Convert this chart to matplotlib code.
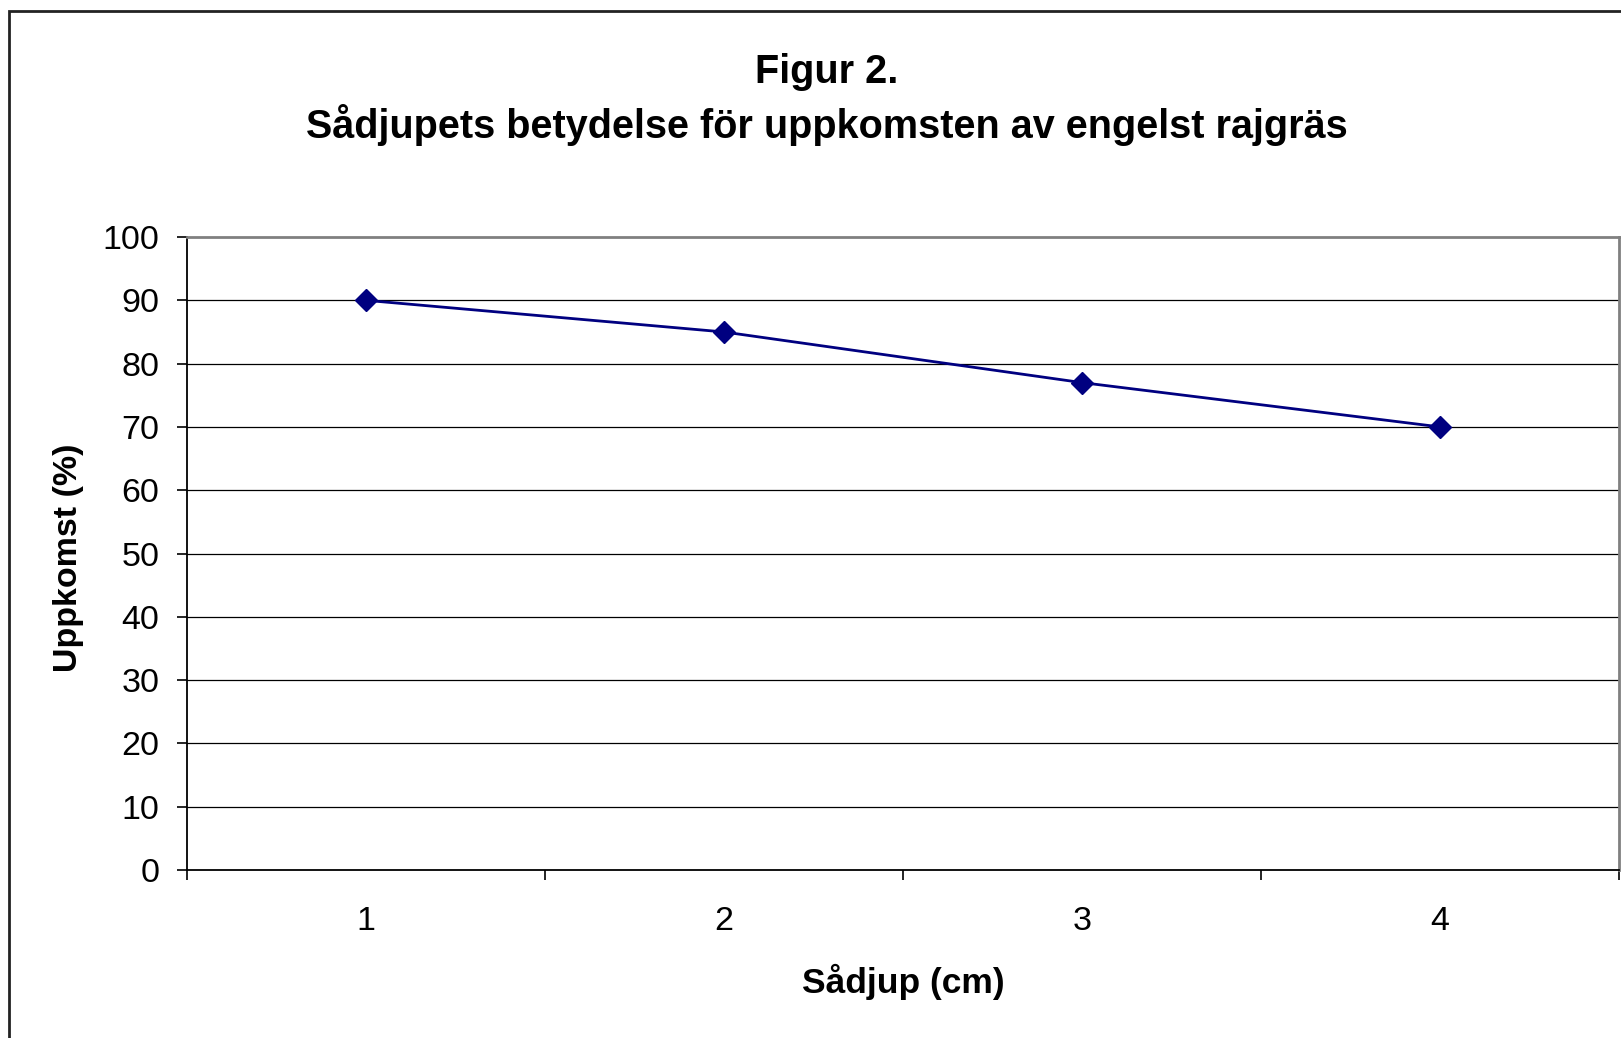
import matplotlib.pyplot as plt
from matplotlib.patches import Rectangle

# === DATA ===
depth = [1, 2, 3, 4]
emergence = [90, 85, 77, 70]
yticks = [0, 10, 20, 30, 40, 50, 60, 70, 80, 90, 100]

plt.rcParams.update({
    "font.family": ["Liberation Sans", "DejaVu Sans"],
    "font.size": 24,
})

fig = plt.figure(figsize=(16.21, 10.38), dpi=100)
ax = fig.add_axes([186.5 / 1621, 1 - 870 / 1038, (1619 - 186.5) / 1621, (870 - 237) / 1038])

# outer chart border (runs off the right and bottom edges)
fig.patches.append(Rectangle((8.5 / 1621, -0.05), 1.2, 1 - 11 / 1038 + 0.05,
                             transform=fig.transFigure, fill=False,
                             edgecolor='#222222', linewidth=2))

ax.plot(depth, emergence, color='#000080', linewidth=2, marker='D',
        markersize=11, markerfacecolor='#000080', markeredgecolor='#000080', zorder=3)

ax.set_xlim(0.5, 4.5)
ax.set_ylim(0, 100)
ax.set_yticks(yticks)
ax.set_xticks([0.5, 1.5, 2.5, 3.5, 4.5])
ax.set_xticklabels([])
ax.set_xticks(depth, minor=True)
ax.set_xticklabels([str(d) for d in depth], minor=True)
ax.tick_params(axis='x', which='major', direction='out', length=7.5, width=1.2, color='black')
ax.tick_params(axis='x', which='minor', length=0, pad=26, labelsize=24.5)
ax.tick_params(axis='y', direction='out', length=7.5, width=1.2, pad=12, labelsize=24.5)

for y in yticks[1:-1]:
    ax.axhline(y, color='black', linewidth=0.9, zorder=1)

ax.spines['left'].set_color('black')
ax.spines['bottom'].set_color('black')
ax.spines['left'].set_linewidth(1.3)
ax.spines['bottom'].set_linewidth(1.3)
ax.spines['top'].set_color('#808080')
ax.spines['right'].set_color('#808080')
ax.spines['top'].set_linewidth(2)
ax.spines['right'].set_linewidth(2)

fig.text(827 / 1621, 1 - 72 / 1038, 'Figur 2.', ha='center', va='center',
         fontsize=28.5, fontweight='bold')
fig.text(827 / 1621, 1 - 125 / 1038, 'Sådjupets betydelse för uppkomsten av engelst rajgräs',
         ha='center', va='center', fontsize=28.5, fontweight='bold')
fig.text(903 / 1621, 1 - 982 / 1038, 'Sådjup (cm)', ha='center', va='center',
         fontsize=25.5, fontweight='bold')
fig.text(68 / 1621, 1 - 558 / 1038, 'Uppkomst (%)', ha='center', va='center',
         rotation=90, fontsize=24.5, fontweight='bold')

fig.savefig('out.png', dpi=100)
